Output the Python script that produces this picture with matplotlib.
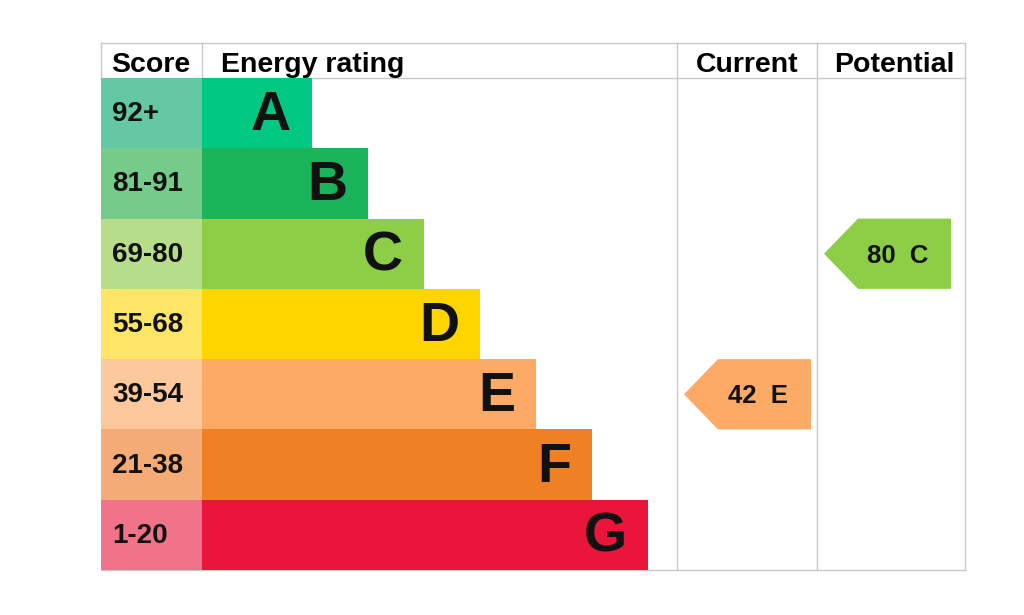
import matplotlib.pyplot as plt
from matplotlib.patches import Polygon, Rectangle

# Data
bands = ["A", "B", "C", "D", "E", "F", "G"]
score_ranges = ["92+", "81-91", "69-80", "55-68", "39-54", "21-38", "1-20"]
band_min = [92, 81, 69, 55, 39, 21, 1]
bar_colors = ["#00c781", "#19b459", "#8dce46", "#ffd500", "#fcaa65", "#ef8023", "#e9153b"]
score_colors = ["#64c8a4", "#75cc8a", "#b6de8a", "#ffe566", "#fec89d", "#f4ab75", "#f0738a"]
current_score = 42
potential_score = 80

# Layout (pixel coordinates, y grows downward)
X0, X_SCORE, X_CUR, X_POT, X1 = 101, 202, 677, 817, 965
Y0, Y_HEAD, Y1 = 43, 78, 570
ROW_H = (Y1 - Y_HEAD) / len(bands)
BAR_W0, BAR_STEP = 110, 56
GRID = "#c8c8c8"
FONT = "Liberation Sans"

plt.rcParams["font.family"] = [FONT, "DejaVu Sans"]

fig = plt.figure(figsize=(10.24, 6.15), dpi=100)
ax = fig.add_axes([0, 0, 1, 1])
ax.set_xlim(0, 1024)
ax.set_ylim(615, 0)
ax.axis("off")


def band_of(score):
    for i, lo in enumerate(band_min):
        if score >= lo:
            return i
    return len(bands) - 1


# rows
for i, band in enumerate(bands):
    top = Y_HEAD + i * ROW_H
    ax.add_patch(Rectangle((X0, top), X_SCORE - X0, ROW_H, facecolor=score_colors[i],
                           edgecolor="none", zorder=2))
    w = BAR_W0 + i * BAR_STEP
    ax.add_patch(Rectangle((X_SCORE, top), w, ROW_H, facecolor=bar_colors[i],
                           edgecolor="none", zorder=2))
    ax.text(X0 + 11, top + ROW_H / 2 + 1, score_ranges[i], ha="left", va="center",
            fontsize=20, fontweight="bold", color="#111111", zorder=3)
    ax.text(X_SCORE + w - 21, top + ROW_H / 2 + 3, band, ha="right", va="center",
            fontsize=40, fontweight="bold", color="#111111", zorder=3)

# grid lines
lw = 1.0
ax.plot([X0, X1], [Y0, Y0], color=GRID, lw=lw, zorder=1)
ax.plot([X0, X1], [Y_HEAD, Y_HEAD], color=GRID, lw=lw, zorder=1)
ax.plot([X0, X1], [Y1, Y1], color=GRID, lw=lw, zorder=1)
for x in [X0, X_SCORE]:
    ax.plot([x, x], [Y0, Y_HEAD], color=GRID, lw=lw, zorder=1)
for x in [X_CUR, X_POT, X1]:
    ax.plot([x, x], [Y0, Y1], color=GRID, lw=lw, zorder=1)

# headers
hy = (Y0 + Y_HEAD) / 2 + 4
hfs = 20.5
ax.text(X0 + 50, hy, "Score", ha="center", va="center", fontsize=hfs, fontweight="bold")
ax.text(X_SCORE + 19, hy, "Energy rating", ha="left", va="center", fontsize=hfs, fontweight="bold")
ax.text((X_CUR + X_POT) / 2, hy, "Current", ha="center", va="center", fontsize=hfs, fontweight="bold")
ax.text((X_POT + X1) / 2 + 3, hy, "Potential", ha="center", va="center", fontsize=hfs, fontweight="bold")


def arrow(score, col_left):
    i = band_of(score)
    top = Y_HEAD + i * ROW_H
    bot = top + ROW_H
    tip = col_left + 7
    body = tip + 34
    right = body + 93
    pts = [(tip, (top + bot) / 2), (body, top), (right, top), (right, bot), (body, bot)]
    ax.add_patch(Polygon(pts, closed=True, facecolor=bar_colors[i], edgecolor="none", zorder=2))
    ax.text((body + right) / 2 - 7, (top + bot) / 2 + 2, f"{score}  {bands[i]}", ha="center",
            va="center", fontsize=18.5, fontweight="bold", color="#111111", zorder=3)


arrow(current_score, X_CUR)
arrow(potential_score, X_POT)

fig.savefig("out.png", dpi=100, facecolor="white")
